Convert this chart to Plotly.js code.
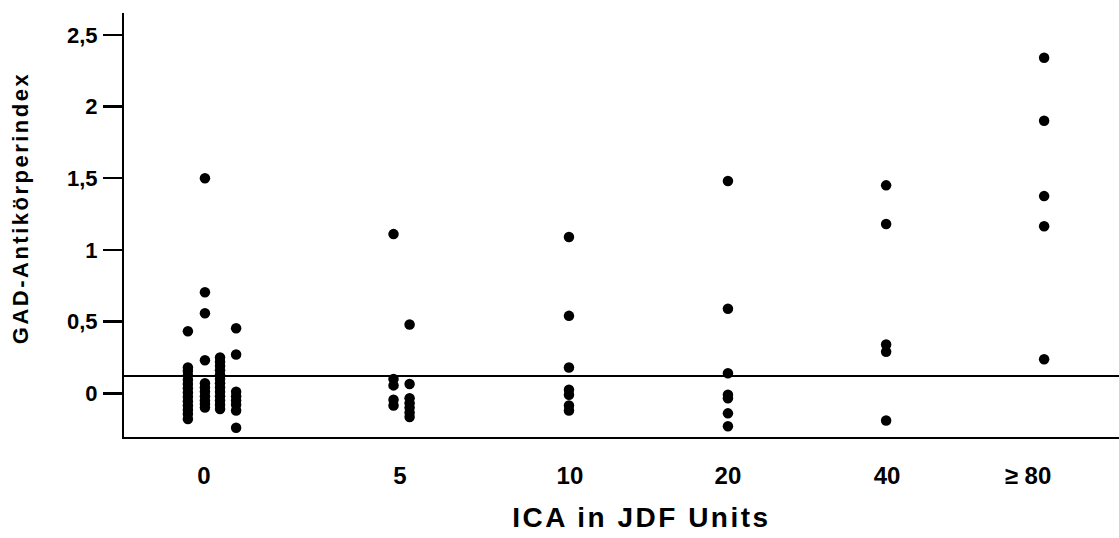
<!DOCTYPE html>
<html>
<head>
<meta charset="utf-8">
<script src="https://cdn.plot.ly/plotly-3.0.1.min.js"></script>
<style>
  html, body { margin: 0; padding: 0; background: #fff; }
  #chart { width: 1119px; height: 538px; }
  .xtitle { letter-spacing: 2.5px; }
  .ytitle { letter-spacing: 2.5px; }
  .g-xtitle { transform: translate(20px, 4px); }
  .g-ytitle { transform: translate(-16px, -17px); }
</style>
</head>
<body>
<div id="chart"></div>
<script>
// ---- categories / tick labels ----
const categories = ["0", "5", "10", "20", "40", "\u2265 80"];
const yTickValues = [0, 0.5, 1, 1.5, 2, 2.5];
const yTickLabels = ["0", "0,5", "1", "1,5", "2", "2,5"];
const cutoff = 0.12;   // horizontal threshold line (GAD index)

// ---- GAD antibody index values, per ICA group ----
// ICA 0 (four side-by-side columns)
const ica0_colA = [0.433, 0.18, 0.155, 0.125, 0.095, 0.065, 0.035, 0.005, -0.025, -0.055, -0.085, -0.115, -0.145, -0.18];
const ica0_colB = [1.50, 0.705, 0.558, 0.23, 0.07, 0.04, 0.01, -0.02, -0.05, -0.075, -0.10];
const ica0_colC = [0.25, 0.22, 0.19, 0.16, 0.13, 0.10, 0.07, 0.04, 0.01, -0.02, -0.05, -0.08, -0.11];
const ica0_colD = [0.454, 0.27, 0.01, -0.02, -0.05, -0.08, -0.12, -0.24];
// ICA 5 (two columns)
const ica5_colA = [1.11, 0.10, 0.055, -0.045, -0.085];
const ica5_colB = [0.48, 0.065, -0.035, -0.07, -0.10, -0.135, -0.165];
// ICA 10, 20, 40, >=80
const ica10 = [1.09, 0.54, 0.18, 0.025, -0.01, -0.085, -0.12];
const ica20 = [1.48, 0.59, 0.14, -0.01, -0.035, -0.14, -0.23];
const ica40 = [1.45, 1.18, 0.34, 0.29, -0.19];
const ica80 = [2.34, 1.90, 1.375, 1.165, 0.237];

// ---- layout helpers (axis positions of the groups, not data) ----
const groupCenter = [0.0, 1.008, 1.862, 2.673, 3.480, 4.286];
const labelPos    = [0.0, 1.0, 1.867, 2.673, 3.485, 4.204];
const colStep = 0.082;

const columns = [
  {g: 0, off: -1, y: ica0_colA},
  {g: 0, off: 0.06, y: ica0_colB},
  {g: 0, off: 1, y: ica0_colC},
  {g: 0, off: 2, y: ica0_colD},
  {g: 1, off: -0.5, y: ica5_colA},
  {g: 1, off: 0.5, y: ica5_colB},
  {g: 2, off: 0, y: ica10},
  {g: 3, off: 0, y: ica20},
  {g: 4, off: 0, y: ica40},
  {g: 5, off: 0, y: ica80}
];

const xs = [], ys = [];
columns.forEach(c => {
  c.y.forEach(v => { xs.push(groupCenter[c.g] + c.off * colStep); ys.push(v); });
});

const font = {family: "Liberation Sans, Arial, sans-serif", color: "#000", weight: "bold"};

const data = [{
  type: "scatter",
  mode: "markers",
  x: xs,
  y: ys,
  marker: {color: "#000", size: 10.5},
  hoverinfo: "y",
  showlegend: false
}];

const layout = {
  width: 1119,
  height: 538,
  margin: {l: 124, r: 0, t: 13, b: 101, pad: 0},
  paper_bgcolor: "#fff",
  plot_bgcolor: "#fff",
  font: Object.assign({size: 21}, font),
  showlegend: false,
  xaxis: {
    range: [-0.408, 4.668],
    tickmode: "array",
    tickvals: labelPos,
    ticktext: categories,
    ticks: "",
    showgrid: false,
    zeroline: false,
    showline: true,
    linecolor: "#000",
    linewidth: 2,
    ticklabelstandoff: 16,
    tickfont: Object.assign({size: 24}, font),
    title: {text: "ICA in JDF Units", font: Object.assign({size: 28}, font), standoff: 16}
  },
  yaxis: {
    range: [-0.305, 2.652],
    tickmode: "array",
    tickvals: yTickValues,
    ticktext: yTickLabels,
    ticks: "outside",
    ticklen: 19,
    tickwidth: 2.5,
    tickcolor: "#000",
    showgrid: false,
    zeroline: false,
    showline: true,
    linecolor: "#000",
    linewidth: 2,
    ticklabelstandoff: 1,
    tickfont: Object.assign({size: 22}, font),
    title: {text: "GAD-Antikörperindex", font: Object.assign({size: 22}, font), standoff: 16}
  },
  shapes: [{
    type: "line",
    xref: "paper", yref: "y",
    x0: 0, x1: 1, y0: cutoff, y1: cutoff,
    line: {color: "#000", width: 2}
  }]
};

Plotly.newPlot("chart", data, layout, {displayModeBar: false, staticPlot: true});
</script>
</body>
</html>
